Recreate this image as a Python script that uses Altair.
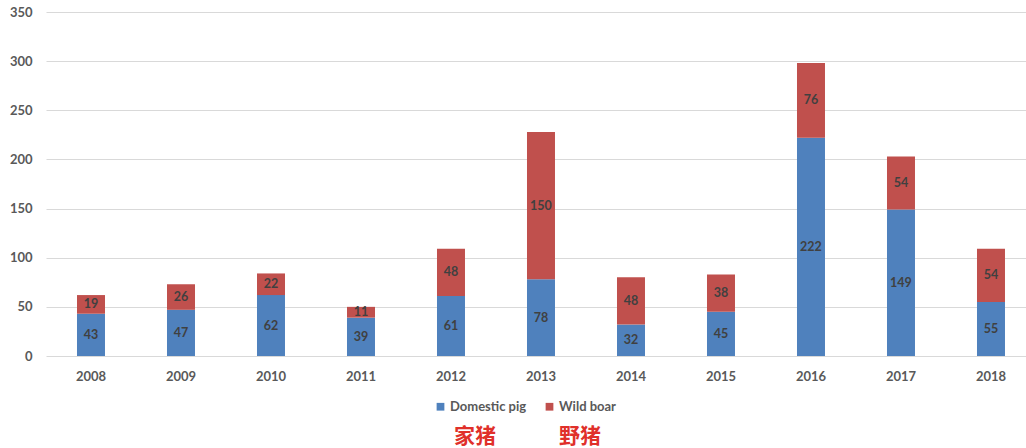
import altair as alt
import pandas as pd

years = ["2008", "2009", "2010", "2011", "2012", "2013", "2014", "2015", "2016", "2017", "2018"]
domestic = [43, 47, 62, 39, 61, 78, 32, 45, 222, 149, 55]
wild = [19, 26, 22, 11, 48, 150, 48, 38, 76, 54, 54]
series_names = ["Domestic pig", "Wild boar"]
colors = ["#4F81BD", "#C0504D"]
y_ticks = [0, 50, 100, 150, 200, 250, 300, 350]
cn_labels = ["家猪", "野猪"]

rows = []
for i, y in enumerate(years):
    rows.append({"year": y, "series": series_names[0], "value": domestic[i], "order": 0})
    rows.append({"year": y, "series": series_names[1], "value": wild[i], "order": 1})
df = pd.DataFrame(rows)

FONT = "Lato"

base = alt.Chart(df).transform_stack(
    stack="value", groupby=["year"], as_=["v0", "v1"], sort=[{"field": "order"}]
).transform_calculate(mid="(datum.v0 + datum.v1) / 2")

xenc = alt.X(
    "year:N",
    sort=years,
    scale=alt.Scale(paddingInner=0.6889, paddingOuter=0.2889, align=0.596),
    axis=alt.Axis(
        title=None, labelAngle=0, ticks=False, domain=False,
        labelFont=FONT, labelFontSize=13, labelFontWeight="bold",
        labelColor="#595959", labelPadding=14,
    ),
)

bars = base.mark_bar().encode(
    x=xenc,
    y=alt.Y(
        "v0:Q",
        scale=alt.Scale(domain=[0, 350], nice=False),
        axis=alt.Axis(
            title=None, values=y_ticks, ticks=False, domain=False,
            grid=True, gridColor="#D9D9D9", gridWidth=1,
            labelFont=FONT, labelFontSize=13, labelFontWeight="bold",
            labelColor="#595959", labelPadding=14,
        ),
    ),
    y2="v1:Q",
    color=alt.Color(
        "series:N",
        scale=alt.Scale(domain=series_names, range=colors),
        legend=alt.Legend(
            title=None, orient="none", direction="horizontal",
            legendX=388, legendY=388, padding=0,
            symbolType="square", symbolSize=60, symbolStrokeWidth=0,
            labelFont=FONT, labelFontSize=13, labelFontWeight="bold",
            labelColor="#595959", labelOffset=3, columnPadding=16,
        ),
    ),
)

labels = base.mark_text(
    font=FONT, fontSize=12.5, fontWeight="bold", color="#404040", baseline="middle"
).encode(
    x=alt.X("year:N", sort=years),
    y=alt.Y("mid:Q"),
    text="value:Q",
)

cn1 = alt.Chart(pd.DataFrame({"t": [cn_labels[0]]})).mark_text(
    font="Noto Sans CJK SC", fontSize=21, fontWeight="bold", color="#E0302A",
    baseline="middle", align="center",
).encode(text="t:N", x=alt.value(429), y=alt.value(425))
cn2 = alt.Chart(pd.DataFrame({"t": [cn_labels[1]]})).mark_text(
    font="Noto Sans CJK SC", fontSize=21, fontWeight="bold", color="#E0302A",
    baseline="middle", align="center",
).encode(text="t:N", x=alt.value(534), y=alt.value(425))

chart = alt.layer(bars, labels, cn1, cn2).properties(
    width=980, height=344,
    autosize=alt.AutoSizeParams(type="none"),
    padding={"left": 46, "top": 12, "right": 0, "bottom": 92},
    background="white",
).configure_view(stroke=None)

chart.save("out.html", embed_options={"renderer": "svg", "actions": False})
